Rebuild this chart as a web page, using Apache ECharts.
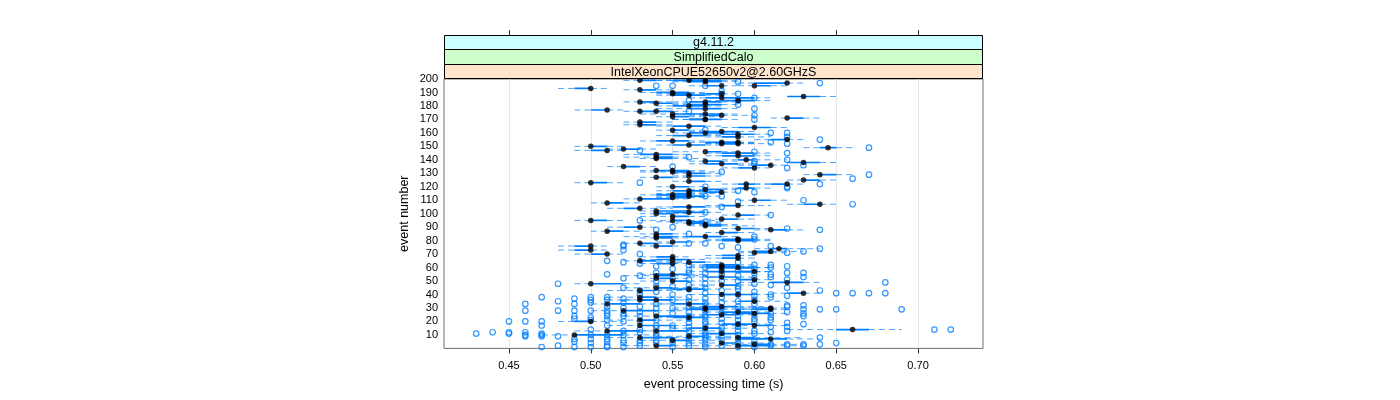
<!DOCTYPE html>
<html><head><meta charset="utf-8">
<script src="https://cdn.jsdelivr.net/npm/echarts@6/dist/echarts.min.js"></script>
<style>html,body{margin:0;background:#fff}#c{width:1400px;height:400px}</style></head>
<body><div id="c"></div>
<script>
// strip labels
const stripLabels = ['g4.11.2', 'SimplifiedCalo', 'IntelXeonCPUE52650v2@2.60GHzS'];
const xTickValues = [0.45, 0.50, 0.55, 0.60, 0.65, 0.70];
const yTickValues = [10,20,30,40,50,60,70,80,90,100,110,120,130,140,150,160,170,180,190,200];
// One entry per box; times in hundredths of a second
const eventNumbers = [
199,199,199,198,197,195,195,193,192,190,
189,189,188,187,186,184,183,183,182,181,
180,178,177,176,176,174,174,173,172,171,
170,170,168,166,165,164,162,161,160,159,
158,157,155,154,153,153,152,152,151,150,
149,148,147,146,145,143,144,142,141,140,
139,138,137,136,135,134,132,132,131,130,
129,128,127,125,124,123,122,122,120,119,
118,117,116,115,114,113,112,111,110,108,
107,106,105,104,102,101,100,99,98,96,
95,95,94,93,92,91,90,89,88,87,
86,85,83,83,82,81,81,80,79,78,
76,76,74,73,72,71,70,69,68,67,
66,65,64,63,62,61,60,60,57,57,
55,54,53,52,51,50,49,48,47,45,
44,43,41,40,40,38,36,36,35,33,
33,31,30,30,29,29,28,27,26,25,
24,23,21,20,18,17,17,15,14,13,
13,11,10,9,8,8,7,6,4,3,
2,2];
const whiskerLow = [
52,54,55,55,59,59,56,48,52,53,
54,56,54,62,56,57,52,55,53,55,
54,54,49,52,53,53,55,56,54,61,
55,55,52,52,54,58,54,56,55,57,
54,57,60,53,56,57,57,57,54,49,
63,51,49,55,57,57,52,52,53,58,
56,62,56,59,51,58,53,54,53,55,
63,55,53,62,55,49,58,60,54,58,
56,54,56,54,53,54,54,52,59,50,
62,57,54,51,53,54,53,58,53,57,
49,53,54,55,56,56,51,58,60,50,
57,53,52,55,53,58,57,57,54,52,
53,48,60,48,59,59,49,57,53,57,
53,52,54,53,56,56,56,57,56,58,
53,52,56,53,58,53,59,49,56,52,
54,51,61,56,57,51,51,52,58,50,
54,56,55,59,59,55,50,57,58,56,
52,54,51,48,57,58,51,55,62,49,
52,56,47,54,51,57,57,53,56,58,
57,52];
const boxLow = [
53,55,56,56,60,60,57,49,53,54,
55,57,55,62,57,58,53,56,54,56,
55,56,50,53,54,55,56,57,55,62,
56,56,53,53,55,59,55,57,56,58,
55,58,61,54,57,58,58,58,55,50,
64,52,50,57,58,58,53,54,54,59,
57,62,57,60,52,59,54,55,55,56,
64,56,54,63,56,50,59,61,55,59,
57,55,57,55,54,55,55,53,60,51,
63,58,55,52,54,55,54,59,55,58,
50,55,56,56,57,57,52,59,61,51,
58,54,54,56,54,59,58,58,55,53,
54,49,61,49,60,60,50,58,54,58,
54,53,56,54,57,57,57,58,57,59,
54,54,57,54,59,55,61,50,58,54,
55,53,62,58,58,53,53,53,59,51,
55,57,56,60,60,56,52,58,59,57,
54,55,53,49,58,60,53,56,65,51,
54,57,49,56,53,59,59,55,58,60,
59,54];
const medians = [
53,56,57,57,62,60,58,50,53,55,
55,58,56,63,58,59,53,57,54,57,
56,57,51,53,54,55,57,58,55,62,
57,57,53,53,56,60,55,58,57,59,
56,59,62,55,58,59,58,59,56,50,
64.5,52,51,57,59,59,54,54,54,59.5,
57,63,58,61,52,60,54,55,55,56,
64,56,54,63,56,50,59.5,62,55,59.5,
57,56,58,56,55,56,55,53,60,51,
64,59,56,53,54,56,54,59,55,58,
50,55,56,56,57,57,53,59,61,51,
58,54,54,57,54,59,59,59,55,53,
54,50,61.5,50,61,60,51,59,55,59,
55,53,56,55,58,58,58,59,58,60,
55,54,58,54,60,55,62,50,58,54,
56,53,63,58,59,53,53,54,60,51,
56,58,57,61,61,57,52,59,60,58,
54,56,53,50,59,60,53,57,66,51,
54,58,49,56,53,59,61,55,58,60,
59,54];
const boxHigh = [
54,57,58,58,62,61,58,50,54,56,
56,58,57,64,60,60,54,58,55,58,
57,58,51,54,55,56,58,58,56,63,
58,57,54,54,57,61,56,59,58,60,
57,59,62,56,59,59,59,59,57,51,
65,53,51,58,60,60,55,55,55,60,
58,64,59,61,53,60,55,56,56,57,
65,57,55,64,57,51,60,62,56,60,
58,57,58,56,56,57,56,55,61,52,
64,59,57,53,56,57,55,60,56,59,
51,56,57,57,58,58,53,60,62,52,
59,55,55,58,55,60,59,60,56,54,
55,50,62,50,61,61,51,59,55,59,
56,54,57,55,59,59,60,60,60,60,
56,55,59,55,60,56,63,52,59,55,
57,54,63,59,60,54,54,55,60,53,
57,59,58,61,61,58,54,60,61,59,
56,57,54,50,60,61,55,58,67,53,
56,59,52,57,55,60,62,56,59,61,
61,55];
const whiskerHigh = [
55,58,59,59,63,62,59,51,55,57,
57,59,58,65,61,61,55,59,56,59,
58,59,52,55,56,57,59,60,58,64,
59,58,55,55,58,62,57,60,59,61,
58,61,63,57,60,60,60,61,58,52,
66,54,52,59,61,61,56,56,57,62,
59,65,60,62,54,61,56,57,58,58,
66,58,56,65,58,52,62,63,57,61,
60,58,59,58,57,58,57,56,62,53,
65,61,58,55,57,58,56,61,57,60,
52,58,58,58,59,60,54,61,63,53,
60,56,56,59,56,61,60,61,57,55,
56,51,64,51,63,62,52,60,56,60,
57,56,58,56,60,60,61,61,61,61,
57,57,60,56,61,58,64,53,60,57,
59,56,64,60,61,56,56,57,62,55,
58,61,60,62,62,60,56,61,62,60,
57,59,56,52,61,62,56,60,69,55,
58,61,54,59,57,63,64,58,61,63,
63,57];
// Outlier circles: time column (hundredths of a second) and the events showing one there
const outlierTimes = [43,44,45,46,47,48,49,50,51,52,53,54,55,56,57,58,59,60,61,62,63,64,65,66,67,68,69,71,72];
const outlierEvents = [
[11],
[12],
[20,12,11],
[33,28,20,12,10,9],
[38,20,17,11,10,9,1],
[48,35,28,9,2],
[37,33,28,24,22,7,5,1],
[38,36,34,28,23,21,14,10,7,4,1],
[65,55,38,36,31,28,26,24,21,17,10,7,5,2,1],
[77,76,73,64,52,45,37,34,30,26,24,20,13,10,6,4,1],
[147,123,95,70,63,54,43,40,31,27,24,20,14,12,6,4,2],
[195,88,61,56,50,46,42,33,30,26,21,17,15,11,9,6,4],
[195,135,90,64,59,52,46,40,36,30,26,17,15,6,4,1],
[184,176,142,85,78,62,58,56,51,47,44,38,35,31,27,24,22,19,16,13,9,7,4,2],
[195,162,120,113,101,94,78,60,56,52,48,45,41,37,34,32,28,25,23,20,18,15,12,10,8,6,3,1],
[191,189,131,113,105,76,59,55,50,43,38,34,30,26,22,19,15,12,9,6,2],
[198,189,184,181,117,109,75,64,58,54,50,46,44,40,35,31,27,24,21,18,16,13,10,7,4,1],
[186,178,173,170,146,139,137,116,83,81,62,59,56,52,48,42,39,36,33,28,25,22,20,13,11,5,3,1],
[160,153,99,76,62,60,55,53,47,40,38,26,23,21,16,12,3,2],
[160,157,152,145,140,134,120,119,89,71,61,56,51,45,39,32,31,27,19,16,13,3,2],
[136,110,72,56,53,32,29,26,24,18,3,2],
[197,155,122,88,74,43,29,8,3],
[41,29,4],
[126,107,41],
[149,129,41],
[49,41],
[29],
[14],
[14]];

const X0 = 0.4103, X1 = 0.7397;
const boxData = eventNumbers.map((e,i)=>[whiskerLow[i]/100,boxLow[i]/100,boxHigh[i]/100,whiskerHigh[i]/100,e]);
const medianData = eventNumbers.map((e,i)=>[medians[i]/100,e]);
const outlierData = [];
outlierTimes.forEach((t,i)=>outlierEvents[i].forEach(e=>outlierData.push([t/100,e])));

const BLUE = '#0080ff';
const stripFill = ['#ccffff','#ccffcc','#ffe5cc'];
const stripTop = [35,49,64];
const stripHeights = [14,15,14];
const stripTextY = [43,58,73];
const font = '"Liberation Sans",Arial,Helvetica,sans-serif';

const chart = echarts.init(document.getElementById('c'), null, {renderer:'canvas'});
chart.setOption({
  animation:false,
  backgroundColor:'#fff',
  grid:{left:444,top:79,width:539,height:269.4,show:true,borderColor:'#6f6f6f',borderWidth:1,backgroundColor:'transparent'},
  xAxis:[{
    type:'value',min:X0,max:X1,position:'bottom',
    name:'event processing time (s)',nameLocation:'middle',nameGap:30,
    nameTextStyle:{fontFamily:font,fontSize:12.5,color:'#000'},
    axisLine:{show:false},
    axisTick:{show:true,length:5,customValues:xTickValues,lineStyle:{color:'#333',width:1}},
    axisLabel:{customValues:xTickValues,color:'#000',fontFamily:font,fontSize:11,margin:12,formatter:v=>v.toFixed(2)},
    splitLine:{show:true,lineStyle:{color:'#e6e6e6',width:1}}
  },{
    type:'value',min:X0,max:X1,position:'top',offset:44,
    axisLine:{show:false},
    axisTick:{show:true,length:5,customValues:xTickValues,lineStyle:{color:'#333',width:1}},
    axisLabel:{show:false,customValues:xTickValues},
    splitLine:{show:false}
  }],
  yAxis:{
    type:'value',min:0,max:200,
    name:'event number',nameLocation:'middle',nameGap:33,nameRotate:90,
    nameTextStyle:{fontFamily:font,fontSize:12.5,color:'#000'},
    axisLine:{show:false},
    axisTick:{show:false,customValues:yTickValues},
    axisLabel:{customValues:yTickValues,color:'#000',fontFamily:font,fontSize:11,margin:6},
    splitLine:{show:false}
  },
  graphic:stripLabels.flatMap((s,i)=>[{
    type:'rect',silent:true,z:5,
    shape:{x:444.5,y:stripTop[i]+0.5,width:538,height:stripHeights[i]},
    style:{fill:stripFill[i],stroke:'#000',lineWidth:1}
  },{
    type:'text',silent:true,z:6,x:713.5,y:stripTextY[i],
    style:{text:s,fill:'#000',font:'12.5px '+font,align:'center',verticalAlign:'middle'}
  }]),
  series:[{
    type:'custom',coordinateSystem:'cartesian2d',clip:true,z:2,
    data:boxData,encode:{x:[0,1,2,3],y:4},
    renderItem:(p,api)=>{
      const e=api.value(4);
      const a=api.coord([api.value(0),e]),b=api.coord([api.value(1),e]),
            c=api.coord([api.value(2),e]),d=api.coord([api.value(3),e]);
      const dash={stroke:BLUE,lineWidth:1,lineDash:[6,4],fill:null,opacity:0.7};
      return {type:'group',children:[
        {type:'line',shape:{x1:a[0],y1:a[1],x2:b[0],y2:b[1]},style:dash},
        {type:'line',shape:{x1:c[0],y1:c[1],x2:d[0],y2:d[1]},style:dash},
        {type:'line',shape:{x1:b[0],y1:b[1],x2:c[0],y2:c[1]},style:{stroke:BLUE,lineWidth:1.7,fill:null}}
      ]};
    }
  },{
    type:'scatter',z:3,data:outlierData,symbol:'circle',symbolSize:5.5,clip:true,
    itemStyle:{color:'rgba(255,255,255,0)',borderColor:BLUE,borderWidth:1.2}
  },{
    type:'scatter',z:4,data:medianData,symbol:'circle',symbolSize:5.5,clip:true,
    itemStyle:{color:'#000',borderWidth:0}
  }]
});
</script></body></html>
